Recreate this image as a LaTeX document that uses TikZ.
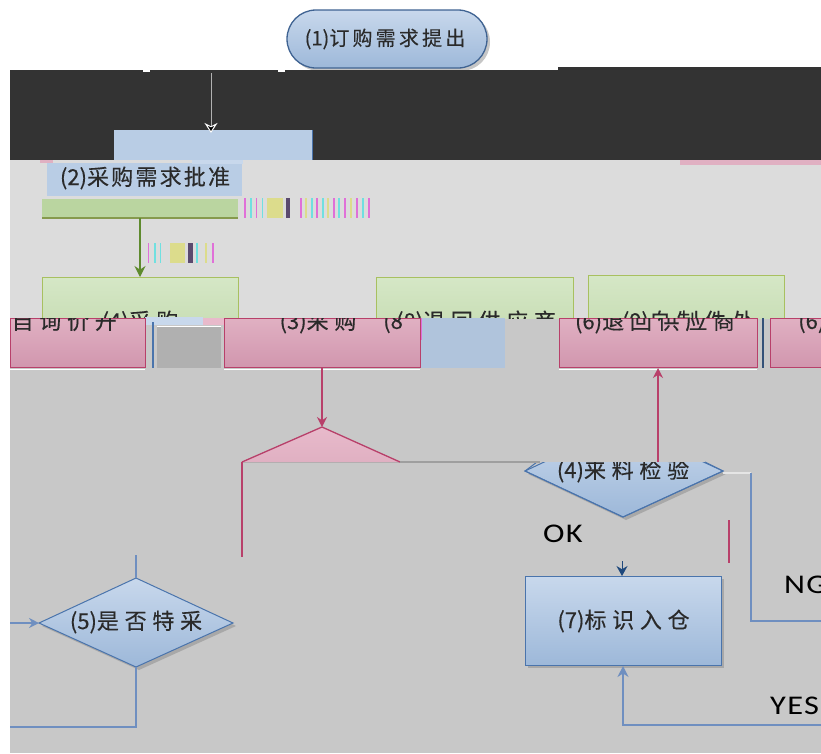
\documentclass[tikz,border=0pt]{standalone}
\usepackage{fontspec}
\setmainfont{Noto Sans CJK SC}
\newfontfamily\cjkn[FakeBold=0.3]{Noto Sans CJK SC}
\newfontfamily\cjka[LetterSpace=10,FakeBold=0.3]{Noto Sans CJK SC}
\newfontfamily\cjkb[LetterSpace=26,FakeBold=0.3]{Noto Sans CJK SC}
\newfontfamily\cjkc[LetterSpace=16,FakeBold=0.3]{Noto Sans CJK SC}
\newfontfamily\latf[FakeStretch=1.2,LetterSpace=5]{Carlito}
\newcommand{\np}[1]{{\cjkn #1}}
\usetikzlibrary{arrows.meta}
\definecolor{cDark}{HTML}{333333}
\definecolor{cLG}{HTML}{DCDCDC}
\definecolor{cMG}{HTML}{C8C8C8}
\definecolor{cShad}{HTML}{A8A8A8}
\definecolor{cBlue}{HTML}{B9CDE5}
\definecolor{cBlueT}{HTML}{C8D8EC}
\definecolor{cBlueB}{HTML}{9DB8D9}
\definecolor{cBlueD}{HTML}{4A74AC}
\definecolor{cBlueL}{HTML}{6F8FC0}
\definecolor{cArrowB}{HTML}{1F497D}
\definecolor{cGreenT}{HTML}{D5E7C6}
\definecolor{cGreenB}{HTML}{C6DCB2}
\definecolor{cGreenD}{HTML}{A8C060}
\definecolor{cGreenBar}{HTML}{BAD5A0}
\definecolor{cGreenA}{HTML}{5E8A2E}
\definecolor{cPinkT}{HTML}{E0B0C2}
\definecolor{cPinkB}{HTML}{D196AE}
\definecolor{cPinkD}{HTML}{B8406A}
\definecolor{cPinkL}{HTML}{E8BACB}
\definecolor{cSteel}{HTML}{B0C4DC}
\definecolor{cGrayBox}{HTML}{B0B0B0}
\definecolor{cTxt}{HTML}{2A2A2A}
\definecolor{cYel}{HTML}{DCDC8C}
\definecolor{cPur}{HTML}{5A4A6E}
\definecolor{cMag}{HTML}{E070D8}
\definecolor{cCya}{HTML}{70E0E0}
\tikzset{
  bluebox/.style={draw=cBlueD,line width=1pt,top color=cBlueT,bottom color=cBlueB},
  greenbox/.style={draw=cGreenD,line width=1.3pt,top color=cGreenT,bottom color=cGreenB},
  pinkbox/.style={draw=cPinkD,line width=1pt,top color=cPinkT,bottom color=cPinkB},
  txta/.style={text=cTxt,inner sep=0pt,font=\cjka\fontsize{22}{26}\selectfont},
  txtb/.style={text=cTxt,inner sep=0pt,font=\cjkb\fontsize{22}{26}\selectfont},
  latlab/.style={text=black,inner sep=0pt,font=\latf\fontsize{27}{30}\selectfont},
  bluecon/.style={draw=cBlueL,line width=1.6pt},
  pinkcon/.style={draw=cPinkD,line width=1.6pt},
}
\begin{document}
\begin{tikzpicture}[x=1pt,y=-1pt]
\fill[white] (0,0) rectangle (821,753);
\useasboundingbox (0,0) rectangle (821,753);
% oval
\fill[gray!45,rounded corners=29pt] (290,13) rectangle (490,71);
\node[bluebox,draw=cBlueD!85!black,line width=1.3pt,rounded corners=29pt,minimum width=200pt,minimum height=58pt,inner sep=0pt] (n1) at (387,39) {};
\node[text=cTxt,inner sep=0pt,font=\cjkc\fontsize{20}{24}\selectfont] (n1t) at (385,39) {\np{(1)}订购需求提出};
% dark band
\fill[cDark] (10,70) rectangle (558,160);
\fill[cDark] (558,67) rectangle (821,160);
\fill[white] (143,69) rectangle (150,72);
\fill[white] (278,69) rectangle (285,72);
% upper blue box (cut)
\fill[cBlue] (114,130) rectangle (312,160);
\draw[cBlueD,line width=1pt] (312,130) -- (312,160);
\coordinate (a1s) at (211,73);
\coordinate (a1e) at (211,133);
\draw[draw=gray!60,line width=0.9pt,-{Stealth[length=10pt,width=13pt,color=white,fill=black,line width=1pt]}] (a1s) -- (a1e);
% light gray band
\fill[cLG] (10,160) rectangle (821,318);
\fill[cPinkT] (680,160) rectangle (821,165);
\fill[cPinkT] (40,160) rectangle (53,163);
% (2) box
\fill[cBlue] (47,163) rectangle (242,196);
\fill[cBlueT] (192,160) rectangle (243,164);
\node[txta] (n2) at (145,178) {\np{(2)}采购需求批准};
% green bar
\fill[cGreenBar] (42,199) rectangle (238,218);
\draw[cGreenD!80!black,line width=1.2pt] (42,218) -- (238,218);
% glitch strips
\foreach \x/\c/\w in {244/cMag/1.5,250/cCya/1.5,256/cMag/1,262/cCya/1,267/cYel/16,286/cPur/4,300/cMag/1.5,305/cYel/1.5,311/cCya/1.5,316/cMag/1.5,322/cCya/1.5,327/cYel/1.5,333/cMag/1.5,338/cCya/1.5,344/cMag/1.5,350/cYel/1.5,356/cMag/1.5,362/cCya/1.5,368/cMag/1.5}
  \fill[\c] (\x,198) rectangle ++(\w,20);
\foreach \x/\c/\w in {148/cMag/1,154/cCya/1.5,160/cCya/1,170/cYel/15,188/cPur/5,196/cCya/1.5,205/cYel/1.5,212/cMag/1.5}
  \fill[\c] (\x,243) rectangle ++(\w,20);
\coordinate (g1) at (140,218);
% medium gray area
\fill[cMG] (10,318) rectangle (821,753);
% green boxes (clipped by the band below)
\begin{scope}
\clip (0,0) rectangle (821,318);
\node[greenbox,minimum width=196pt,minimum height=56pt,inner sep=0pt,anchor=north west] (gb1) at (42,277) {};
\node[greenbox,minimum width=197pt,minimum height=56pt,inner sep=0pt,anchor=north west] (gb2) at (376,277) {};
\node[greenbox,minimum width=196pt,minimum height=58pt,inner sep=0pt,anchor=north west] (gb3) at (588,275) {};
\node[txtb] at (140,322) {\np{(4)}采购};
\node[txtb] at (476,322) {\np{(8)}退回供应商};
\node[txtb] at (688,322) {\np{(9)}自制件处};
\end{scope}
\draw[cGreenA,line width=1.3pt,-{Stealth[length=11pt,width=11pt]}] (g1) -- (gb1.north -| g1);
% pink row
\fill[cBlueT] (145,317) rectangle (203,325);
\fill[cPinkL] (203,318) rectangle (224,325);
\fill[cGrayBox] (157,326) rectangle (221,368);
\draw[white,line width=1pt] (157,326) -- (221,326);
\draw[cBlueD,line width=1.5pt] (153,322) -- (153,368);
\fill[cSteel] (421,318) rectangle (505,368);
\draw[cMag,line width=1pt] (421,318) -- (421,340);
\draw[cBlueD!70!black,line width=1.2pt] (763,318) -- (763,368);
\node[pinkbox,minimum width=135pt,minimum height=49pt,inner sep=0pt,anchor=north west] (pb1) at (10,318) {};
\node[pinkbox,minimum width=196pt,minimum height=49pt,inner sep=0pt,anchor=north west] (pb2) at (224,318) {};
\node[pinkbox,minimum width=198pt,minimum height=49pt,inner sep=0pt,anchor=north west] (pb3) at (559,318) {};
\node[pinkbox,minimum width=60pt,minimum height=49pt,inner sep=0pt,anchor=north west] (pb4) at (770,318) {};
\begin{scope}
\clip (10,318) rectangle (821,367);
\node[txtb,anchor=east] at (117,322) {\np{(3)}自询价开};
\node[txtb] at (318,322) {\np{(3)}采购};
\node[txtb,anchor=west] at (383,322) {\np{(8}};
\node[txtb] at (655,322) {\np{(6)}退回供应商};
\node[txtb,anchor=west] at (798,322) {\np{(6)}退回};
\end{scope}
\draw[white,line width=1pt] (10,369) -- (145,369) (224,369) -- (420,369) (559,369) -- (757,369);
% pink triangle (cut diamond) and its connectors
\coordinate (p2b) at (322,368);
\coordinate (pd) at (322,427);
\fill[top color=cPinkL,bottom color=cPinkT] (242,462) -- (322,427) -- (400,462) -- cycle;
\draw[cPinkD,line width=1.3pt] (242,462) -- (322,427) -- (400,462);
\draw[pinkcon,-{Stealth[length=10pt,width=10pt]}] (p2b) -- (pd);
\coordinate (pv1) at (242,462);
\coordinate (pv2) at (242,557);
\draw[cPinkD,line width=2pt] (pv1) -- (pv2);
\coordinate (gl1) at (400,462);
\coordinate (gl2) at (540,462);
% diamond (4), top cut
\begin{scope}
\clip (0,462) rectangle (821,753);
\fill[cShad] (528,474) -- (626,428) -- (726,474) -- (626,520) -- cycle;
\path[bluebox] (525,471) -- (623,425) -- (723,471) -- (623,517) -- cycle;
\end{scope}
\draw[cBlueD,line width=1pt] (537,462) -- (525,471) -- (623,517) -- (723,471) -- (705,462);
\coordinate (n4) at (623,471);
\begin{scope}
\clip (0,462) rectangle (821,753);
\node[txtb] (n4t) at (n4) {\np{(4)}来料检验};
\end{scope}
\coordinate (u1) at (658,462);
\draw[pinkcon,-{Stealth[length=10pt,width=10pt]}] (u1) -- (pb3.south -| u1);
\draw[gray!75,line width=1.2pt] (gl1) -- (gl2);
% NG path
\coordinate (ng1) at (723,473);
\coordinate (ng2) at (751,473);
\coordinate (ng3) at (751,621);
\coordinate (ng4) at (821,621);
\draw[white!80!gray,line width=1.2pt] (ng1) -- (ng2);
\draw[bluecon] (ng2) -- (ng3) -- (ng4);
\node[latlab,anchor=west] (lng) at (784,585) {NG};
\node[latlab] (lok) at (563,534) {OK};
\coordinate (pk1) at (729,520);
\coordinate (pk2) at (729,563);
\draw[cPinkD,line width=2pt] (pk1) -- (pk2);
% box (7)
\fill[cShad] (528,579) rectangle (724,668);
\node[bluebox,minimum width=196pt,minimum height=89pt,inner sep=0pt,anchor=north west] (n7) at (525,576) {};
\node[txtb] (n7t) at (n7.center) {\np{(7)}标识入仓};
\coordinate (ok1) at (622,561);
\draw[draw=cArrowB,line width=1pt,-{Stealth[length=10pt,width=11pt]}] (ok1) -- (n7.north -| ok1);
% YES path
\coordinate (y1) at (821,725);
\coordinate (y2) at (623,725);
\draw[bluecon,-{Stealth[length=11pt,width=11pt]}] (y1) -- (y2) -- (n7.south -| y2);
\node[latlab,anchor=west] (lyes) at (770,706) {YES};
% diamond (5)
\fill[cShad] (42,626) -- (139,581) -- (236,626) -- (139,670) -- cycle;
\path[bluebox] (39,623) -- (136,578) -- (233,623) -- (136,667) -- cycle;
\coordinate (n5w) at (39,623);
\coordinate (n5n) at (136,578);
\coordinate (n5s) at (136,667);
\node[txtb] (n5t) at (136,622) {\np{(5)}是否特采};
\coordinate (t5) at (136,555);
\draw[bluecon] (t5) -- (n5n);
\coordinate (l5) at (10,623);
\draw[bluecon,-{Stealth[length=10pt,width=10pt]}] (l5) -- (n5w);
\coordinate (b5) at (136,727);
\coordinate (b5l) at (10,727);
\draw[bluecon] (n5s) -- (b5) -- (b5l);
\end{tikzpicture}
\end{document}
